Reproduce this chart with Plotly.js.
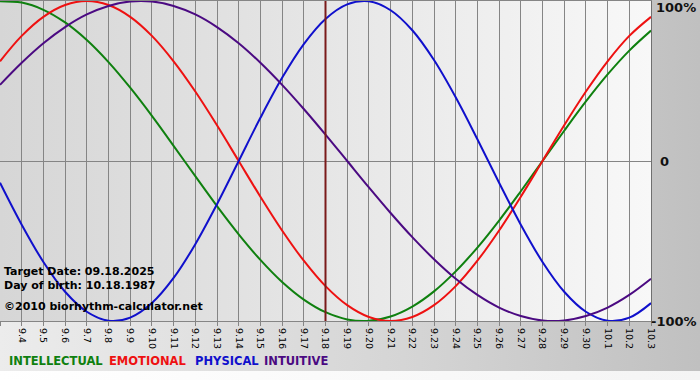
<!DOCTYPE html>
<html>
<head>
<meta charset="utf-8">
<script src="https://cdn.plot.ly/plotly-3.0.1.min.js"></script>
<style>
  html, body { margin: 0; padding: 0; }
  #wrap { position: relative; width: 700px; height: 380px; overflow: hidden;
          background: linear-gradient(to right, #ececec 0%, #d4d4d4 60%, #c0c0c0 100%); }
  #white { position: absolute; left: 0; top: 371px; width: 700px; height: 9px;
           background: linear-gradient(to right, #ffffff, #f4f4f4); }
  #plotbg { position: absolute; left: 0; top: 1px; width: 651px; height: 320px;
            background: linear-gradient(to right, #d6d6d6 0%, #e6e6e6 50%, #f8f8f8 100%); }
  #chart { position: absolute; left: 0; top: 0; width: 700px; height: 380px; }
</style>
</head>
<body>
<div id="wrap">
  <div id="white"></div>
  <div id="plotbg"></div>
  <div id="chart"></div>
</div>
<script>
// Dates (Sep 3 – Oct 3)
const dates = ['9.3','9.4','9.5','9.6','9.7','9.8','9.9','9.10','9.11','9.12','9.13','9.14','9.15','9.16','9.17','9.18','9.19','9.20','9.21','9.22','9.23','9.24','9.25','9.26','9.27','9.28','9.29','9.30','10.1','10.2','10.3'];

// Cycle values (-1 .. 1)
const intellectual = [0.999,0.990,0.945,0.866,0.756,0.618,0.458,0.282,0.095,-0.095,-0.282,-0.458,-0.618,-0.756,-0.866,-0.945,-0.990,-0.999,-0.972,-0.910,-0.815,-0.690,-0.541,-0.372,-0.189,0.000,0.189,0.372,0.541,0.690,0.815];
const emotional    = [0.623,0.782,0.901,0.975,1.000,0.975,0.901,0.782,0.623,0.434,0.223,0.000,-0.223,-0.434,-0.623,-0.782,-0.901,-0.975,-1.000,-0.975,-0.901,-0.782,-0.623,-0.434,-0.223,0.000,0.223,0.434,0.623,0.782,0.901];
const physical     = [-0.136,-0.398,-0.631,-0.817,-0.942,-0.998,-0.979,-0.888,-0.731,-0.520,-0.270,0.000,0.270,0.520,0.731,0.888,0.979,0.998,0.942,0.817,0.631,0.398,0.136,-0.136,-0.398,-0.631,-0.817,-0.942,-0.998,-0.979,-0.888];
const intuitive    = [0.476,0.614,0.736,0.837,0.916,0.969,0.997,0.997,0.969,0.916,0.837,0.736,0.614,0.476,0.325,0.165,0.000,-0.165,-0.325,-0.476,-0.614,-0.736,-0.837,-0.916,-0.969,-0.997,-0.997,-0.969,-0.916,-0.837,-0.736];

const seriesNames = ['INTELLECTUAL','EMOTIONAL','PHYSICAL','INTUITIVE'];
const seriesColors = ['#0f800f','#ee1111','#1010cc','#4b0a82'];
const targetIndex = 15; // 9.18

const idx = dates.map((d, i) => i);
const allSeries = [intellectual, emotional, physical, intuitive];

const traces = allSeries.map((vals, k) => ({
  x: idx, y: vals, type: 'scatter', mode: 'lines',
  name: seriesNames[k],
  line: { color: seriesColors[k], width: 2, shape: 'spline', smoothing: 1 },
  hoverinfo: 'skip'
}));

const gridColor = '#858585';
const txtFont = { family: 'DejaVu Sans', size: 11, color: '#000', weight: 'bold' };

const annotations = [
  { text: 'Target Date: 09.18.2025', x: 0, y: 0.156, xshift: 2 },
  { text: 'Day of birth: 10.18.1987', x: 0, y: 0.110, xshift: 2 },
  { text: '©2010 biorhythm-calculator.net', x: 0, y: 0.046, xshift: 2 }
].map(a => Object.assign({ xref: 'paper', yref: 'paper', xanchor: 'left', yanchor: 'middle',
  showarrow: false, font: txtFont }, a));

// right-side percentage labels
[['100%', 0.981, 3], ['0', 0.497, 7], ['-100%', -0.003, -2]].forEach(([t, y, xs]) => {
  annotations.push({ text: t, xref: 'paper', yref: 'paper', x: 1, y: y, xshift: xs,
    xanchor: 'left', yanchor: 'middle', showarrow: false,
    font: { family: 'DejaVu Sans', size: 13, color: '#111', weight: 'bold' } });
});

// legend texts
const legendX = [7, 107, 193, 262];
seriesNames.forEach((n, k) => {
  annotations.push({ text: n, xref: 'paper', yref: 'paper', x: legendX[k] / 651, y: -0.125,
    xanchor: 'left', yanchor: 'middle', showarrow: false,
    font: { family: 'DejaVu Sans', size: 11.5, color: seriesColors[k], weight: 'bold' } });
});

const layout = {
  width: 700, height: 380,
  margin: { l: 0, r: 49, t: 1, b: 59, pad: 0 },
  paper_bgcolor: 'rgba(0,0,0,0)',
  plot_bgcolor: 'rgba(0,0,0,0)',
  showlegend: false,
  xaxis: {
    range: [0, dates.length - 1],
    tickmode: 'array', tickvals: idx, ticktext: dates,
    tickangle: 90, tickfont: { family: 'DejaVu Sans', size: 9.5, color: '#000' },
    ticks: 'outside', ticklen: 4, tickcolor: gridColor, tickwidth: 1,
    showgrid: true, gridcolor: gridColor, gridwidth: 1,
    showline: true, linecolor: gridColor, linewidth: 1, mirror: true,
    zeroline: false, fixedrange: true
  },
  yaxis: {
    range: [-1, 1],
    tickmode: 'array', tickvals: [-1, 0, 1], showticklabels: false,
    showgrid: true, gridcolor: gridColor, gridwidth: 1,
    showline: true, linecolor: '#707070', linewidth: 1, mirror: true,
    zeroline: false, fixedrange: true
  },
  shapes: [{
    type: 'line', xref: 'x', yref: 'paper', x0: targetIndex, x1: targetIndex, y0: 0, y1: 1,
    line: { color: '#7a1a1a', width: 2 }, layer: 'above'
  }],
  annotations: annotations
};

Plotly.newPlot('chart', traces, layout, { displayModeBar: false, staticPlot: true });
</script>
</body>
</html>
